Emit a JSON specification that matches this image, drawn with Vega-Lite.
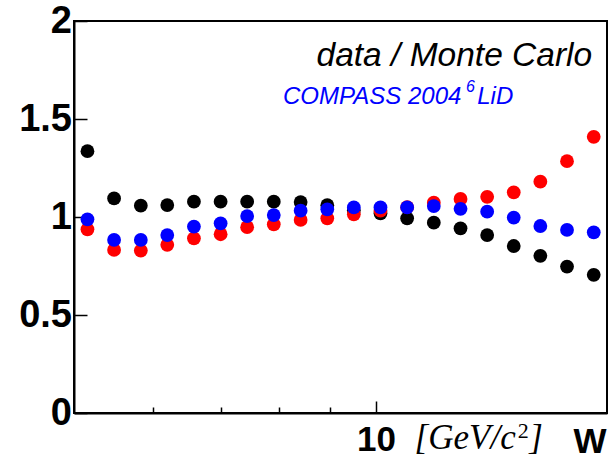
{
  "$schema": "https://vega.github.io/schema/vega-lite/v6.json",
  "width": 533,
  "height": 392,
  "autosize": {"type": "none"},
  "padding": {"left": 74, "top": 21, "right": 3, "bottom": 56},
  "background": "white",
  "config": {
    "view": {"stroke": "black", "strokeWidth": 2},
    "font": "Liberation Sans"
  },
  "data": {
    "values": [
      {"W": 5.157, "ratio": 1.336, "series": "A"},
      {"W": 5.482, "ratio": 1.095, "series": "A"},
      {"W": 5.829, "ratio": 1.058, "series": "A"},
      {"W": 6.194, "ratio": 1.061, "series": "A"},
      {"W": 6.585, "ratio": 1.078, "series": "A"},
      {"W": 7.001, "ratio": 1.078, "series": "A"},
      {"W": 7.441, "ratio": 1.078, "series": "A"},
      {"W": 7.910, "ratio": 1.078, "series": "A"},
      {"W": 8.413, "ratio": 1.076, "series": "A"},
      {"W": 8.944, "ratio": 1.060, "series": "A"},
      {"W": 9.506, "ratio": 1.035, "series": "A"},
      {"W": 10.106, "ratio": 1.019, "series": "A"},
      {"W": 10.744, "ratio": 0.993, "series": "A"},
      {"W": 11.422, "ratio": 0.971, "series": "A"},
      {"W": 12.145, "ratio": 0.942, "series": "A"},
      {"W": 12.911, "ratio": 0.908, "series": "A"},
      {"W": 13.723, "ratio": 0.852, "series": "A"},
      {"W": 14.588, "ratio": 0.802, "series": "A"},
      {"W": 15.509, "ratio": 0.747, "series": "A"},
      {"W": 16.49, "ratio": 0.705, "series": "A"},
      {"W": 5.157, "ratio": 0.937, "series": "B"},
      {"W": 5.482, "ratio": 0.832, "series": "B"},
      {"W": 5.829, "ratio": 0.829, "series": "B"},
      {"W": 6.194, "ratio": 0.858, "series": "B"},
      {"W": 6.585, "ratio": 0.891, "series": "B"},
      {"W": 7.001, "ratio": 0.912, "series": "B"},
      {"W": 7.441, "ratio": 0.948, "series": "B"},
      {"W": 7.910, "ratio": 0.963, "series": "B"},
      {"W": 8.413, "ratio": 0.985, "series": "B"},
      {"W": 8.944, "ratio": 0.993, "series": "B"},
      {"W": 9.506, "ratio": 1.014, "series": "B"},
      {"W": 10.106, "ratio": 1.032, "series": "B"},
      {"W": 10.744, "ratio": 1.050, "series": "B"},
      {"W": 11.422, "ratio": 1.073, "series": "B"},
      {"W": 12.145, "ratio": 1.092, "series": "B"},
      {"W": 12.911, "ratio": 1.103, "series": "B"},
      {"W": 13.723, "ratio": 1.126, "series": "B"},
      {"W": 14.588, "ratio": 1.180, "series": "B"},
      {"W": 15.509, "ratio": 1.285, "series": "B"},
      {"W": 16.49, "ratio": 1.409, "series": "B"},
      {"W": 5.157, "ratio": 0.988, "series": "COMPASS 2004 6LiD"},
      {"W": 5.482, "ratio": 0.883, "series": "COMPASS 2004 6LiD"},
      {"W": 5.829, "ratio": 0.883, "series": "COMPASS 2004 6LiD"},
      {"W": 6.194, "ratio": 0.908, "series": "COMPASS 2004 6LiD"},
      {"W": 6.585, "ratio": 0.951, "series": "COMPASS 2004 6LiD"},
      {"W": 7.001, "ratio": 0.968, "series": "COMPASS 2004 6LiD"},
      {"W": 7.441, "ratio": 1.005, "series": "COMPASS 2004 6LiD"},
      {"W": 7.910, "ratio": 1.010, "series": "COMPASS 2004 6LiD"},
      {"W": 8.413, "ratio": 1.032, "series": "COMPASS 2004 6LiD"},
      {"W": 8.944, "ratio": 1.039, "series": "COMPASS 2004 6LiD"},
      {"W": 9.506, "ratio": 1.049, "series": "COMPASS 2004 6LiD"},
      {"W": 10.106, "ratio": 1.049, "series": "COMPASS 2004 6LiD"},
      {"W": 10.744, "ratio": 1.049, "series": "COMPASS 2004 6LiD"},
      {"W": 11.422, "ratio": 1.056, "series": "COMPASS 2004 6LiD"},
      {"W": 12.145, "ratio": 1.042, "series": "COMPASS 2004 6LiD"},
      {"W": 12.911, "ratio": 1.027, "series": "COMPASS 2004 6LiD"},
      {"W": 13.723, "ratio": 0.997, "series": "COMPASS 2004 6LiD"},
      {"W": 14.588, "ratio": 0.954, "series": "COMPASS 2004 6LiD"},
      {"W": 15.509, "ratio": 0.934, "series": "COMPASS 2004 6LiD"},
      {"W": 16.49, "ratio": 0.922, "series": "COMPASS 2004 6LiD"}
    ]
  },
  "layer": [
    {
      "mark": {"type": "circle", "size": 190, "opacity": 1},
      "encoding": {
        "x": {
          "field": "W",
          "type": "quantitative",
          "scale": {"type": "log", "domain": [5, 17], "nice": false},
          "axis": {
            "values": [6, 7, 8, 9, 10],
            "labelExpr": "datum.value == 10 ? '10' : ''",
            "tickSize": {"condition": {"test": "datum.value == 10", "value": -12}, "value": -6},
            "tickColor": "black",
            "tickWidth": 1.5,
            "domainColor": "black",
            "domainWidth": 2,
            "grid": false,
            "labelFont": "Liberation Sans",
            "labelFontWeight": "bold",
            "labelFontSize": 35,
            "labelColor": "black",
            "labelPadding": 21,
            "labelFlush": false,
            "title": "W",
            "titleFont": "Liberation Sans",
            "titleFontWeight": "bold",
            "titleFontSize": 35,
            "titleColor": "black",
            "titleAnchor": "end",
            "titleAlign": "right",
            "titleBaseline": "alphabetic",
            "titleX": 532,
            "titleY": 39
          }
        },
        "y": {
          "field": "ratio",
          "type": "quantitative",
          "scale": {"domain": [0, 2], "nice": false},
          "axis": {
            "values": [0, 0.5, 1, 1.5, 2],
            "format": "~g",
            "tickSize": -13,
            "tickColor": "black",
            "tickWidth": 1.5,
            "domainColor": "black",
            "domainWidth": 2,
            "grid": false,
            "labelFont": "Liberation Sans",
            "labelFontWeight": "bold",
            "labelFontSize": 38,
            "labelColor": "black",
            "labelPadding": 15.5,
            "labelFlush": false,
            "title": null
          }
        },
        "color": {
          "field": "series",
          "type": "nominal",
          "scale": {"domain": ["A", "B", "COMPASS 2004 6LiD"], "range": ["#000000", "#ff0000", "#0000ff"]},
          "legend": null
        }
      }
    },
    {
      "data": {"values": [{"label": "data / Monte Carlo"}]},
      "mark": {"type": "text", "font": "Liberation Sans", "fontStyle": "italic", "fontSize": 33.5, "align": "right", "baseline": "alphabetic", "color": "black"},
      "encoding": {"text": {"field": "label"}, "x": {"datum": 16.43}, "y": {"datum": 1.77}}
    },
    {
      "data": {"values": [{"label": "COMPASS 2004"}]},
      "mark": {"type": "text", "font": "Liberation Sans", "fontStyle": "italic", "fontSize": 24, "align": "left", "baseline": "alphabetic", "color": "#0000ff"},
      "encoding": {"text": {"field": "label"}, "x": {"datum": 8.08}, "y": {"datum": 1.577}}
    },
    {
      "data": {"values": [{"label": "6"}]},
      "mark": {"type": "text", "font": "Liberation Sans", "fontStyle": "italic", "fontSize": 16, "align": "left", "baseline": "alphabetic", "color": "#0000ff"},
      "encoding": {"text": {"field": "label"}, "x": {"datum": 12.3}, "y": {"datum": 1.64}}
    },
    {
      "data": {"values": [{"label": "LiD"}]},
      "mark": {"type": "text", "font": "Liberation Sans", "fontStyle": "italic", "fontSize": 24, "align": "left", "baseline": "alphabetic", "color": "#0000ff"},
      "encoding": {"text": {"field": "label"}, "x": {"datum": 12.62}, "y": {"datum": 1.577}}
    },
    {
      "data": {"values": [{"label": "[GeV/c"}]},
      "mark": {"type": "text", "font": "Liberation Serif", "fontStyle": "italic", "fontSize": 35, "align": "left", "baseline": "alphabetic", "color": "black"},
      "encoding": {"text": {"field": "label"}, "x": {"datum": 10.93}, "y": {"datum": -0.184}}
    },
    {
      "data": {"values": [{"label": "2"}]},
      "mark": {"type": "text", "font": "Liberation Serif", "fontStyle": "normal", "fontSize": 22, "align": "left", "baseline": "alphabetic", "color": "black"},
      "encoding": {"text": {"field": "label"}, "x": {"datum": 13.85}, "y": {"datum": -0.128}}
    },
    {
      "data": {"values": [{"label": "]"}]},
      "mark": {"type": "text", "font": "Liberation Serif", "fontStyle": "italic", "fontSize": 35, "align": "left", "baseline": "alphabetic", "color": "black"},
      "encoding": {"text": {"field": "label"}, "x": {"datum": 14.22}, "y": {"datum": -0.184}}
    }
  ]
}
